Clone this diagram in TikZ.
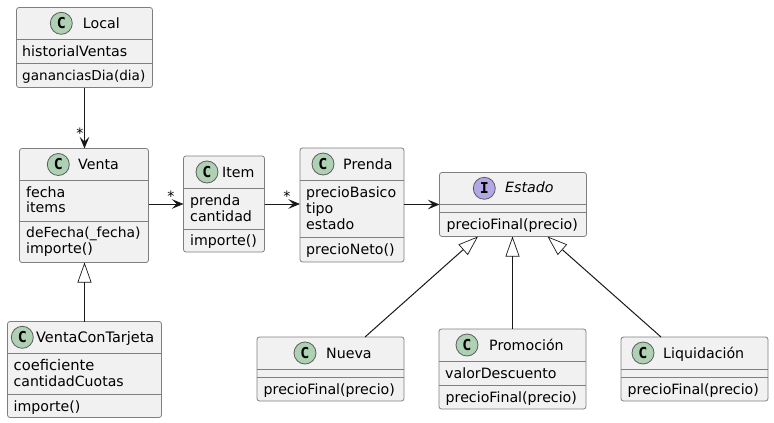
\documentclass[tikz,border=0pt]{standalone}
\usepackage{fontspec}
\setmainfont{DejaVu Sans}
\setmonofont{DejaVu Sans Mono}
\usetikzlibrary{arrows.meta}
\definecolor{boxfill}{HTML}{F1F1F1}
\definecolor{linecol}{HTML}{181818}
\definecolor{edgecol}{HTML}{7F7F7F}
\definecolor{classspot}{HTML}{ADD1B2}
\definecolor{ifacespot}{HTML}{B4A7E5}
\def\fs#1#2{{\fontsize{#1}{16}\selectfont #2}}

\begin{document}
\begin{tikzpicture}[x=1pt,y=-1pt,font=\fontsize{14.2}{16}\selectfont]
    \tikzstyle{class box}=[draw=edgecol,fill=boxfill,line width=0.8pt,rounded corners=2.5pt,anchor=north west,inner sep=0pt,outer sep=0pt]
    \tikzstyle{divider}=[draw=edgecol,line width=0.8pt]
    \tikzstyle{spot}=[circle,draw=linecol!70,line width=0.8pt,minimum size=22pt,inner sep=0pt,font=\fontsize{15}{16}\selectfont\ttfamily\bfseries]
    \tikzstyle{member}=[anchor=base west,inner sep=0pt,text=black]
    \tikzstyle{mult}=[anchor=base,inner sep=0pt]
    \tikzstyle{assoc}=[draw=linecol,line width=1pt,-{Stealth[length=11.5pt,width=9.5pt,inset=4.5pt]}]
    \tikzstyle{extends}=[draw=linecol,line width=1pt,-{Triangle[open,length=20pt,width=14pt,line width=0.7pt]}]
    \useasboundingbox (0,0) rectangle (774,423);

    % Draw the class boxes
    \foreach \name/\x/\y/\w/\h/\da/\db/\cx/\cy/\tx/\ty/\title/\letter/\col in {
        Local/16.5/7.5/136/80/39.5/63.5/61.3/23.3/82.7/28.3/Local/C/classspot,
        Venta/19.5/148.5/129/114/180.5/221.5/58.3/164.5/78/169.5/Venta/C/classspot,
        Item/183.5/156/81/96/188/229/207/172/222/177/Item/C/classspot,
        Prenda/300/148/104/114/180/237/323/164/343/169/Prenda/C/classspot,
        Nueva/257/337/147/64/369/377/305/353/326/358/Nueva/C/classspot,
        Promocion/439/329/147/80/361/385/467/345/489/350/Promoción/C/classspot,
        Liquidacion/621/337/147/64/369/377/643/353/663/358/Liquidación/C/classspot,
        VentaConTarjeta/7.5/321.5/154/96/353.5/394.5/22.3/337.3/36/342/\fs{14.45}{VentaConTarjeta}/C/classspot}
    {
        \node[class box,minimum width=\w pt,minimum height=\h pt] (\name) at (\x,\y) {};
        \draw[divider] (\name.west |- 0,\da) -- (\name.east |- 0,\da);
        \draw[divider] (\name.west |- 0,\db) -- (\name.east |- 0,\db);
        \node[spot,fill=\col] (\name-spot) at (\cx,\cy) {\letter};
        \node[member] (\name-title) at (\tx,\ty) {\title};
    }

    % The interface has an italic title
    \node[class box,minimum width=147pt,minimum height=64pt] (Estado) at (439.5,172.5) {};
    \draw[divider] (Estado.west |- 0,204.5) -- (Estado.east |- 0,204.5);
    \draw[divider] (Estado.west |- 0,212.5) -- (Estado.east |- 0,212.5);
    \node[spot,fill=ifacespot] (Estado-spot) at (484.3,188.3) {I};
    \node[member,font=\fontsize{14.2}{16}\selectfont\itshape] (Estado-title) at (505,192.7) {Estado};

    % Draw the fields and methods
    \foreach \x/\y/\txt [count=\i] in {
        22/56.7/historialVentas, 22/80/\fs{13.6}{gananciasDia(dia)},
        26/197/fecha, 26/212.7/items, 26/237.7/\fs{13.9}{deFecha(\_fecha)}, 26/253.5/importe(),
        190/205/prenda, 190/221/cantidad, 190/245.5/importe(),
        306/197/precioBasico, 306/213/tipo, 306/229/estado, 306/254/precioNeto(),
        446.5/229.3/precioFinal(precio),
        263.5/394/precioFinal(precio),
        445/378/valorDescuento, 445.5/402/precioFinal(precio),
        627.5/394/precioFinal(precio),
        13.5/370/\fs{14.7}{coeficiente}, 13.5/386/\fs{14.07}{cantidadCuotas}, 13.5/411/importe()}
        \node[member] (m-\i) at (\x,\y) {\txt};

    % Connect the classes
    \draw[assoc] (Local.south) -- (Local.south |- Venta.north);
    \draw[assoc] (Item.west -| Venta.east) -- (Item.west);
    \draw[assoc] (Item.east) -- (Item.east -| Prenda.west);
    \draw[assoc] (Estado.west -| Prenda.east) -- (Estado.west);

    \draw[extends] (VentaConTarjeta.north) -- (VentaConTarjeta.north |- Venta.south);
    \draw[extends] ([xshift=34.5pt]Nueva.north) -- ([xshift=-35pt]Estado.south);
    \draw[extends] (Promocion.north) -- (Promocion.north |- Estado.south);
    \draw[extends] ([xshift=-33.5pt]Liquidacion.north) -- ([xshift=34.5pt]Estado.south);

    % Annotate the multiplicities
    \node[mult] (m-venta) at (80,138) {*};
    \node[mult] (m-item) at (171,201) {*};
    \node[mult] (m-prenda) at (287,201) {*};
\end{tikzpicture}
\end{document}
